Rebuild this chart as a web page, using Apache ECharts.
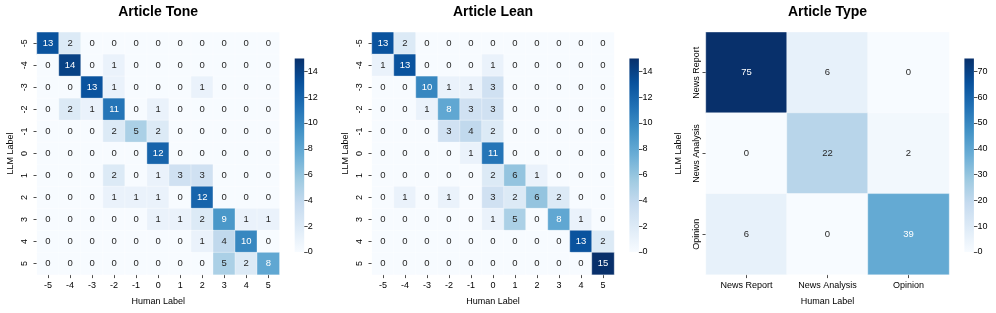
<!DOCTYPE html>
<html>
<head>
<meta charset="utf-8">
<script src="https://cdn.jsdelivr.net/npm/echarts@6/dist/echarts.min.js"></script>
<style>html,body{margin:0;padding:0;background:#fff}#c{width:996px;height:313px}</style>
</head>
<body>
<div id="c"></div>
<script>
// ---- data ----
const scaleLabels = ['-5','-4','-3','-2','-1','0','1','2','3','4','5'];
const typeLabels = ['News Report','News Analysis','Opinion'];
// rows = LLM Label (top to bottom), cols = Human Label (left to right)
const toneValues = [
  [13,2,0,0,0,0,0,0,0,0,0],
  [0,14,0,1,0,0,0,0,0,0,0],
  [0,0,13,1,0,0,0,1,0,0,0],
  [0,2,1,11,0,1,0,0,0,0,0],
  [0,0,0,2,5,2,0,0,0,0,0],
  [0,0,0,0,0,12,0,0,0,0,0],
  [0,0,0,2,0,1,3,3,0,0,0],
  [0,0,0,1,1,1,0,12,0,0,0],
  [0,0,0,0,0,1,1,2,9,1,1],
  [0,0,0,0,0,0,0,1,4,10,0],
  [0,0,0,0,0,0,0,0,5,2,8]
];
const leanValues = [
  [13,2,0,0,0,0,0,0,0,0,0],
  [1,13,0,0,0,1,0,0,0,0,0],
  [0,0,10,1,1,3,0,0,0,0,0],
  [0,0,1,8,3,3,0,0,0,0,0],
  [0,0,0,3,4,2,0,0,0,0,0],
  [0,0,0,0,1,11,0,0,0,0,0],
  [0,0,0,0,0,2,6,1,0,0,0],
  [0,1,0,1,0,3,2,6,2,0,0],
  [0,0,0,0,0,1,5,0,8,1,0],
  [0,0,0,0,0,0,0,0,0,13,2],
  [0,0,0,0,0,0,0,0,0,0,15]
];
const typeValues = [
  [75,6,0],
  [0,22,2],
  [6,0,39]
];
const scaleMax = 15;
const typeMax = 75;
const scaleTicks = [0,2,4,6,8,10,12,14];
const typeTicks = [0,10,20,30,40,50,60,70];
const titles = ['Article Tone','Article Lean','Article Type'];

// ---- styling helpers ----
const FONT = '"Liberation Sans", Arial, Helvetica, sans-serif';
const blueStops = ['#f7fbff','#deebf7','#c6dbef','#9ecae1','#6baed6','#4292c6','#2171b5','#08519c','#08306b'];
function hex2rgb(h){return [parseInt(h.slice(1,3),16),parseInt(h.slice(3,5),16),parseInt(h.slice(5,7),16)];}
function blues(t){
  t=Math.max(0,Math.min(1,t));
  const n=blueStops.length-1, p=t*n, i=Math.min(n-1,Math.floor(p)), f=p-i;
  const a=hex2rgb(blueStops[i]), b=hex2rgb(blueStops[i+1]);
  return a.map((v,k)=>v+(b[k]-v)*f);
}
function lum(rgb){
  const c=rgb.map(v=>{v/=255;return v<=0.03928?v/12.92:Math.pow((v+0.055)/1.055,2.4);});
  return 0.2126*c[0]+0.7152*c[1]+0.0722*c[2];
}
function textColor(v,max){return lum(blues(v/max))<0.408?'#ffffff':'#262626';}

const panels = [
  {vals: toneValues, cats: scaleLabels, max: scaleMax, ticks: scaleTicks, left: 37, width: 242.3, ylMargin: 8, nameGap: 22},
  {vals: leanValues, cats: scaleLabels, max: scaleMax, ticks: scaleTicks, left: 372, width: 242, ylMargin: 8, nameGap: 22},
  {vals: typeValues, cats: typeLabels, max: typeMax, ticks: typeTicks, left: 706, width: 243, ylMargin: 5, nameGap: 23}
];
const TOP = 32.3, H = 242.3;
const CB_TOP = 58.5, CB_H = 193.5, CB_W = 9.5, CB_OFF = 15.4;

const option = {animation:false, title:[], grid:[], xAxis:[], yAxis:[], series:[], visualMap:[]};

panels.forEach((p,k)=>{
  option.title.push({text: titles[k], left: p.left + p.width/2, top: 5.5, padding: 0, textAlign:'center',
    textStyle:{fontSize:14, fontWeight:'bold', color:'#000', fontFamily:FONT}});
  option.grid.push({left:p.left, top:TOP, width:p.width, height:H});
  option.grid.push({left:p.left + p.width + CB_OFF, top:CB_TOP, width:CB_W, height:CB_H});
  const gi = k*2, ci = k*2+1;
  option.xAxis.push({gridIndex:gi, type:'category', data:p.cats, position:'bottom',
    name:'Human Label', nameLocation:'middle', nameGap:22,
    nameTextStyle:{fontSize:9, color:'#000', fontFamily:FONT},
    axisLine:{show:false}, splitLine:{show:false},
    axisTick:{show:true, alignWithLabel:true, length:3.5, lineStyle:{color:'#222', width:0.8}},
    axisLabel:{fontSize:9, color:'#000', margin:6, fontFamily:FONT}});
  option.yAxis.push({gridIndex:gi, type:'category', data:p.cats, inverse:true,
    name:'LLM Label', nameLocation:'middle', nameGap:p.nameGap, nameRotate:90,
    nameTextStyle:{fontSize:9, color:'#000', fontFamily:FONT},
    axisLine:{show:false}, splitLine:{show:false},
    axisTick:{show:true, alignWithLabel:true, length:3.5, lineStyle:{color:'#222', width:0.8}},
    axisLabel:{fontSize:9, color:'#000', rotate:90, margin:p.ylMargin, fontFamily:FONT}});
  // colorbar axes
  option.xAxis.push({gridIndex:ci, type:'category', data:['cb'], show:false});
  option.yAxis.push({gridIndex:ci, type:'value', min:0, max:p.max, position:'right',
    axisLine:{show:false}, splitLine:{show:false},
    axisTick:{show:true, length:3.5, customValues:p.ticks, lineStyle:{color:'#222', width:0.8}},
    axisLabel:{fontSize:9, color:'#000', margin:3.5, customValues:p.ticks, fontFamily:FONT}});
  const data=[];
  p.vals.forEach((row,i)=>row.forEach((v,j)=>{
    data.push({value:[j,i,v], label:{color:textColor(v,p.max)}});
  }));
  const si = option.series.length;
  option.series.push({type:'heatmap', xAxisIndex:gi, yAxisIndex:gi, data:data,
    itemStyle:{borderColor:'rgba(255,255,255,0.7)', borderWidth:0.5},
    label:{show:true, fontSize:9.5, fontFamily:FONT, formatter:(d)=>String(d.value[2])},
    emphasis:{disabled:true}});
  option.visualMap.push({show:false, type:'continuous', min:0, max:p.max, dimension:2, seriesIndex:si,
    inRange:{color:blueStops}});
  option.series.push({type:'bar', xAxisIndex:ci, yAxisIndex:ci, data:[p.max], barWidth:'100%', silent:true,
    itemStyle:{color:{type:'linear', x:0, y:1, x2:0, y2:0,
      colorStops: blueStops.map((c,i)=>({offset:i/(blueStops.length-1), color:c}))}}});
});

const chart = echarts.init(document.getElementById('c'), null, {renderer:'canvas'});
chart.setOption(option);
</script>
</body>
</html>
